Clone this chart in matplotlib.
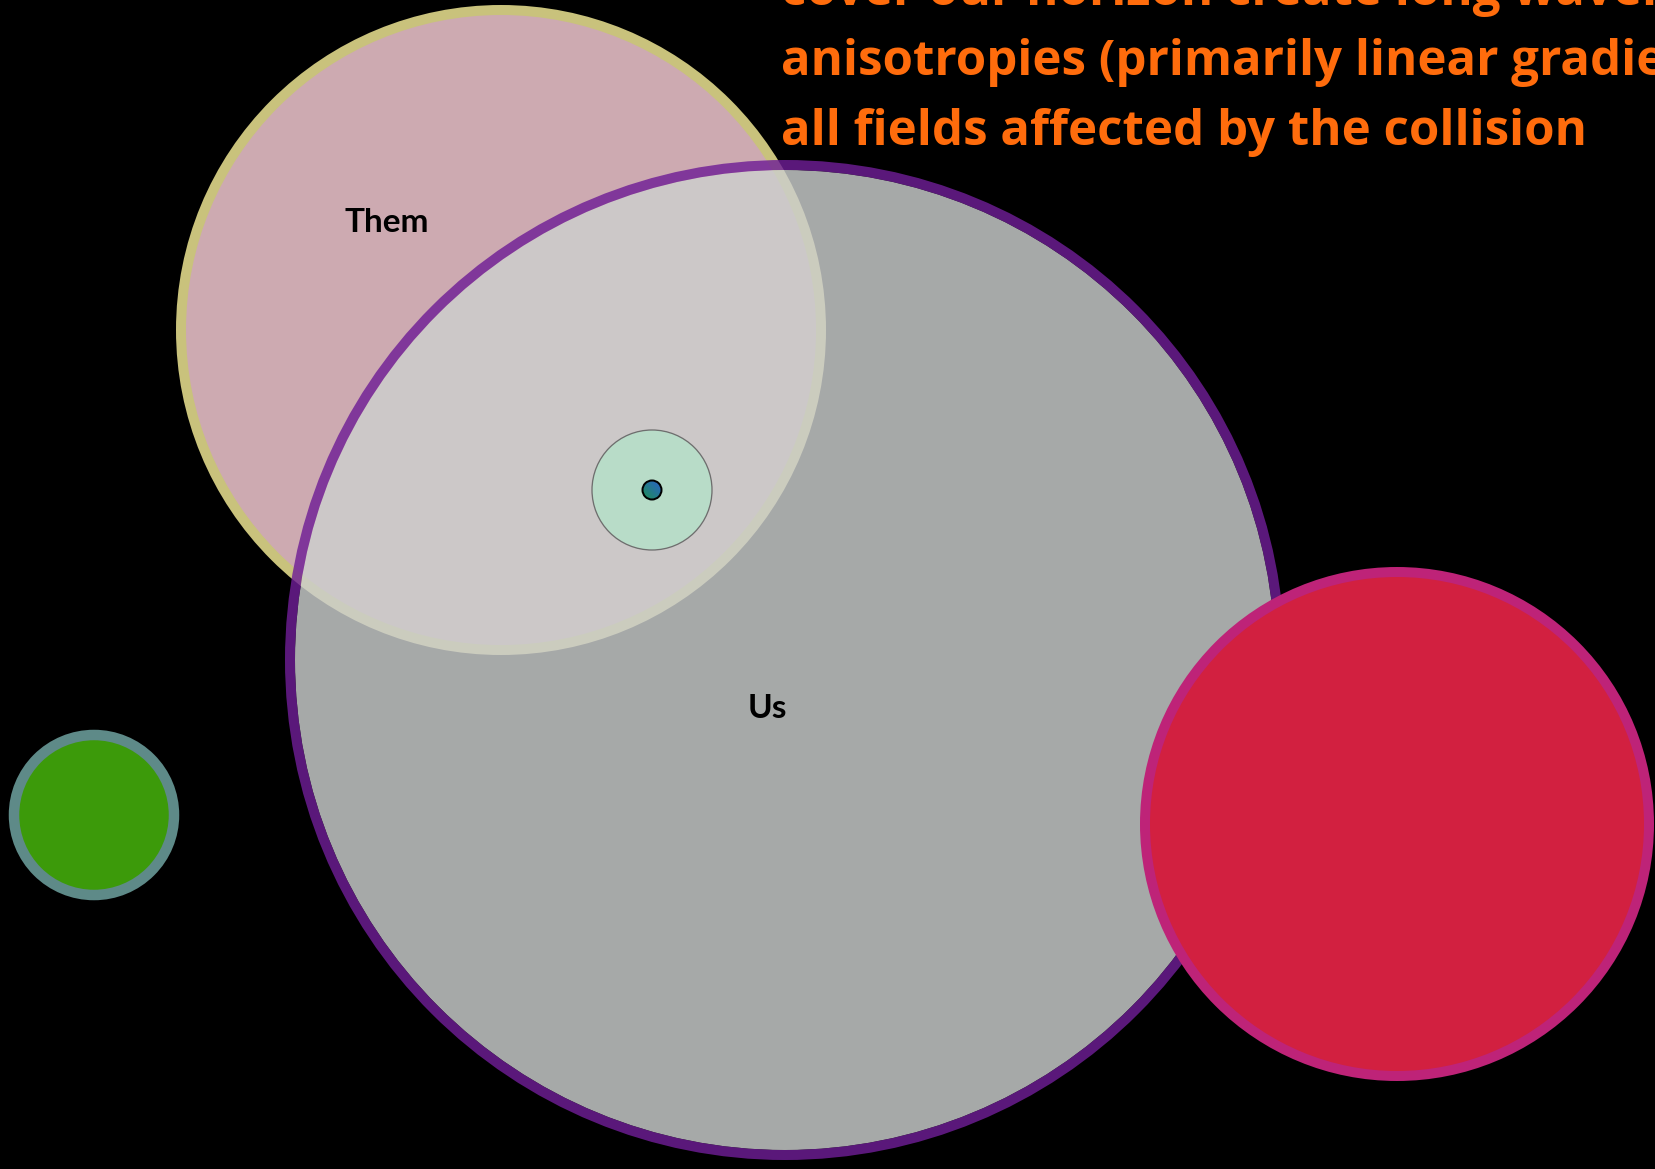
import numpy as np
import matplotlib
matplotlib.use("Agg")
import matplotlib.pyplot as plt
from matplotlib.patches import Circle
from matplotlib.colors import LinearSegmentedColormap
from matplotlib import font_manager

# ---- data -------------------------------------------------------------
names = ["Them", "Us", "red", "green", "inner", "dot"]
centers_x = [501, 785, 1397, 94, 652, 652]
centers_y = [330, 660, 824, 815, 490, 490]
radii = [320, 495, 252, 80, 60, 9.5]
face_colors = ["#cdaab1", "#cccfce", "#d22040", "#3c9a0a", "#b8dcc8", "#2a70a0"]
edge_colors = ["#c9c27c", "#6f1e96", "#be2378", "#5e8a88", "#6e6e6e", "#000000"]
edge_px = [10, 10, 10, 10.5, 1.3, 2]
alphas = [1.0, 0.82, 1.0, 1.0, 1.0, 1.0]

labels = ["Them", "Us"]
label_x = [387, 767]
label_y = [223, 708]

caption_lines = [
    "cover our horizon create long wavelength",
    "anisotropies (primarily linear gradients) in",
    "all fields affected by the collision",
]
caption_baselines = [5, 75, 145]
caption_x = 781
caption_target_width = 802  # px width of the last line

W, H, DPI = 1655, 1169, 100
fig = plt.figure(figsize=(W / DPI, H / DPI), dpi=DPI, facecolor="black")
ax = fig.add_axes([0, 0, 1, 1])
ax.set_facecolor("black")
ax.axis("off")

px2pt = 72.0 / DPI

patches = {}
for i, n in enumerate(names):
    lw_data = edge_px[i]  # 1 data unit == 1 px
    if alphas[i] < 1.0:
        # face and ring drawn separately so the translucent ring does not
        # stack on top of the translucent face
        face = Circle((centers_x[i], centers_y[i]), radii[i] - lw_data / 2.0,
                      facecolor=face_colors[i], edgecolor="none",
                      alpha=alphas[i], zorder=i + 1)
        ring = Circle((centers_x[i], centers_y[i]), radii[i],
                      facecolor="none", edgecolor=edge_colors[i],
                      linewidth=edge_px[i] * px2pt, alpha=alphas[i], zorder=i + 1)
        ax.add_patch(face)
        ax.add_patch(ring)
        patches[n] = ring
    else:
        c = Circle((centers_x[i], centers_y[i]), radii[i], facecolor=face_colors[i],
                   edgecolor=edge_colors[i], linewidth=edge_px[i] * px2pt,
                   alpha=alphas[i], zorder=i + 1)
        ax.add_patch(c)
        patches[n] = c

# gradient fill for the tiny dot
dot = patches["dot"]
dot.set_facecolor("none")
cx, cy, r = centers_x[5], centers_y[5], radii[5]
nn = 64
jj, ii = np.meshgrid(np.arange(nn), np.arange(nn))
grad = (jj - ii + nn) / (2.0 * nn)
cmap = LinearSegmentedColormap.from_list("dotgrad", ["#1f8f55", "#2a5fd0"])
im = ax.imshow(grad, extent=(cx - r, cx + r, cy + r, cy - r), origin="upper",
               cmap=cmap, zorder=5.5, interpolation="bilinear")
clip = Circle((cx, cy), r, transform=ax.transData, facecolor="none", edgecolor="none")
ax.add_patch(clip)
im.set_clip_path(clip)
dot.set_zorder(6)

ax.set_xlim(0, W)
ax.set_ylim(H, 0)
ax.set_aspect("auto")

# labels
for t, x, y in zip(labels, label_x, label_y):
    ax.text(x, y, t, ha="center", va="center", fontsize=24, fontweight="bold",
            family=["Lato", "DejaVu Sans"], color="black", zorder=10)

# caption font
avail = {f.name for f in font_manager.fontManager.ttflist}
fam = "Liberation Sans Narrow" if "Liberation Sans Narrow" in avail else "Open Sans"

fig.canvas.draw()
renderer = fig.canvas.get_renderer()
probe = ax.text(0, 0, caption_lines[-1], fontsize=40, fontweight="bold", family=fam)
wpx = probe.get_window_extent(renderer).width
probe.remove()
fs = 40 * caption_target_width / wpx

for line, yb in zip(caption_lines, caption_baselines):
    ax.text(caption_x, yb, line, ha="left", va="baseline", fontsize=fs,
            fontweight="bold", family=fam, color="#ff6c0c", zorder=11, clip_on=False)

fig.savefig("out.png", dpi=DPI, facecolor="black")
